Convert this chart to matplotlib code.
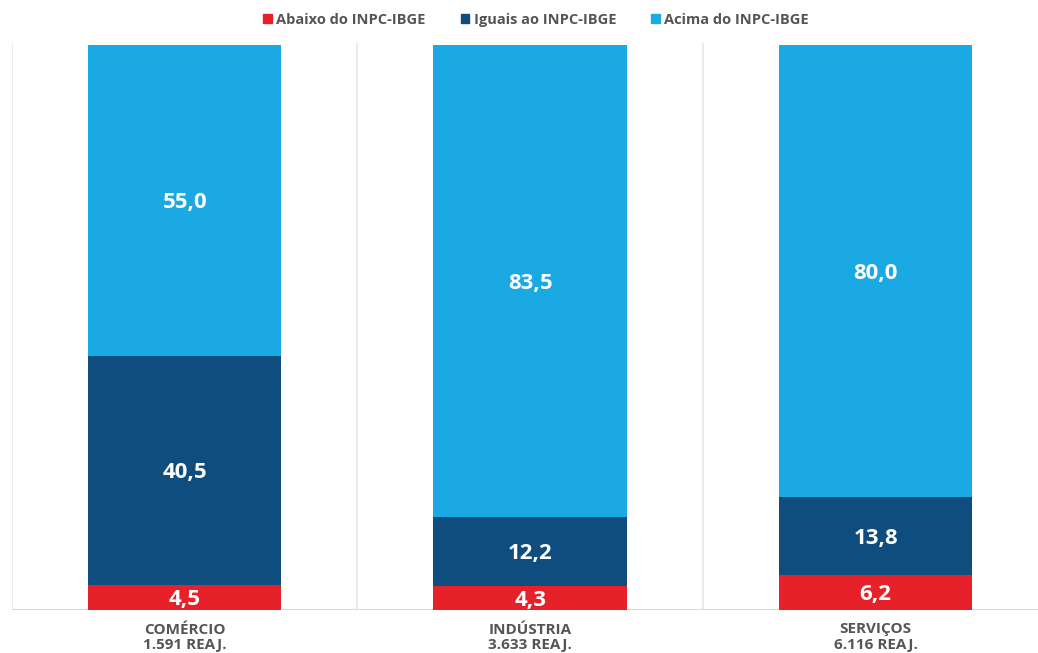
import matplotlib.pyplot as plt
from matplotlib.patches import Patch

plt.rcParams['font.family'] = ['Open Sans', 'DejaVu Sans']

sectors = ['COMÉRCIO', 'INDÚSTRIA', 'SERVIÇOS']
reajustes = ['1.591 REAJ.', '3.633 REAJ.', '6.116 REAJ.']
abaixo = [4.5, 4.3, 6.2]
iguais = [40.5, 12.2, 13.8]
acima = [55.0, 83.5, 80.0]

series = [
    ('Abaixo do INPC-IBGE', abaixo, '#E62129'),
    ('Iguais ao INPC-IBGE', iguais, '#0E4D7E'),
    ('Acima do INPC-IBGE', acima, '#1AA9E2'),
]

fig = plt.figure(figsize=(10.38, 6.53), dpi=100)
ax = fig.add_axes([12 / 1038, 43 / 653, 1026 / 1038, 567 / 653])

x = list(range(len(sectors)))
bottom = [0.0] * len(sectors)
for name, vals, color in series:
    ax.bar(x, vals, width=0.56, bottom=bottom, color=color, label=name, zorder=2)
    for xi, b, v in zip(x, bottom, vals):
        ax.text(xi, b + v / 2 - 0.4, f'{v:.1f}'.replace('.', ','), ha='center', va='center',
                color='white', fontsize=16, fontweight='bold', zorder=3)
    bottom = [b + v for b, v in zip(bottom, vals)]

ax.set_xlim(-0.5, 2.47)
ax.set_ylim(0, 100.4)

# light separators between sectors
for sep in [-0.5, 0.5, 1.5]:
    ax.axvline(sep, color='#e6e6e6', lw=1.2, zorder=1)
ax.axhline(0, color='#d9d9d9', lw=1.5, zorder=1)

for s in ax.spines.values():
    s.set_visible(False)
ax.set_yticks([])
ax.set_xticks(x)
ax.set_xticklabels([f'{s}\n{r}' for s, r in zip(sectors, reajustes)],
                   fontsize=11, fontweight='bold', color='#555555', linespacing=1.15)
ax.tick_params(axis='x', length=0, pad=9)

handles = [Patch(color=c, label=n) for n, _, c in series]
fig.legend(handles=handles, loc='center', bbox_to_anchor=(536 / 1038, 1 - 20 / 653),
           ncol=3, frameon=False, handlelength=0.6, handleheight=0.6,
           handletextpad=0.3, columnspacing=2.4,
           prop={'size': 10.5, 'weight': 'bold'}, labelcolor='#555555')

fig.savefig('out.png', dpi=100)
plt.close(fig)
